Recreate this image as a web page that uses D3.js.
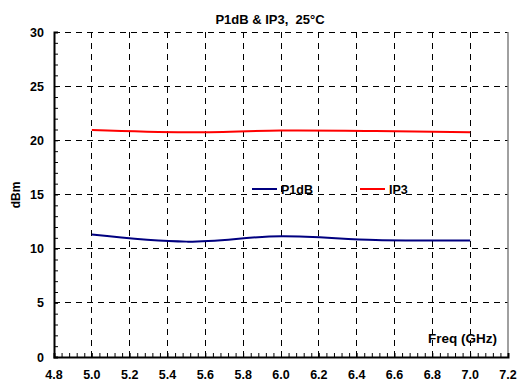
<!DOCTYPE html>
<html><head><meta charset="utf-8">
<script src="https://cdn.jsdelivr.net/npm/d3@7"></script>
<style>body{margin:0;background:#fff}svg{display:block}text{font-family:Arial,"Liberation Sans",sans-serif;font-weight:bold;white-space:pre}</style>
</head><body>
<script>
const freq = [5.0, 5.5, 6.0, 6.5, 7.0];
const p1db = [11.3, 10.65, 11.15, 10.8, 10.75];
const ip3 = [20.95, 20.74, 20.9, 20.86, 20.74];
const xTicks = [4.8, 5.0, 5.2, 5.4, 5.6, 5.8, 6.0, 6.2, 6.4, 6.6, 6.8, 7.0, 7.2];
const yTicks = [0, 5, 10, 15, 20, 25, 30];
const seriesNames = ["P1dB", "IP3"];
const title = "P1dB & IP3,  25°C";

const W = 519, H = 382;
const svg = d3.select("body").append("svg").attr("width", W).attr("height", H);
const x = d3.scaleLinear().domain([4.8, 7.2]).range([54, 508]);
const y = d3.scaleLinear().domain([0, 30]).range([357, 32]);

// gridlines
const g = svg.append("g");
g.selectAll("line.h").data(yTicks.filter(d => d > 0)).join("line")
  .attr("x1", x(4.8)).attr("x2", x(7.2)).attr("y1", d => y(d)).attr("y2", d => y(d))
  .attr("stroke", "#000").attr("stroke-width", 1).attr("stroke-dasharray", "6,5").attr("shape-rendering", "crispEdges");
g.selectAll("line.v").data(xTicks.filter(d => d > 4.85 && d < 7.1)).join("line")
  .attr("x1", d => x(d)).attr("x2", d => x(d)).attr("y1", y(30)).attr("y2", y(0))
  .attr("stroke", "#000").attr("stroke-width", 1).attr("stroke-dasharray", "6,5").attr("shape-rendering", "crispEdges");
// right border
svg.append("line").attr("x1", x(7.2)).attr("x2", x(7.2)).attr("y1", y(30)).attr("y2", y(0))
  .attr("stroke", "#808080").attr("stroke-width", 1.5);

// axes
const yAxis = d3.axisLeft(y).tickValues(d3.range(0, 31, 1)).tickSize(-4).tickFormat("");
svg.append("g").attr("transform", `translate(${x(4.8)},0)`).call(yAxis)
  .call(s => s.select(".domain").attr("stroke-width", 2))
  .call(s => s.selectAll(".tick line").attr("stroke-width", 1));
const xAxis = d3.axisBottom(x).tickValues(d3.range(0, 61).map(i => 4.8 + i * 0.04)).tickSize(-4).tickFormat("");
svg.append("g").attr("transform", `translate(0,${y(0)})`).call(xAxis)
  .call(s => s.select(".domain").attr("stroke-width", 2))
  .call(s => s.selectAll(".tick line").attr("stroke-width", 1));

// tick labels
svg.selectAll("text.yl").data(yTicks).join("text")
  .attr("x", 44).attr("y", d => y(d) + 4.5).attr("text-anchor", "end")
  .attr("font-size", 12.5).text(d => d);
svg.selectAll("text.xl").data(xTicks).join("text")
  .attr("x", d => x(d)).attr("y", 379).attr("text-anchor", "middle")
  .attr("font-size", 12.5).text(d => d.toFixed(1));

// titles
svg.append("text").attr("x", 270).attr("y", 24).attr("text-anchor", "middle").attr("font-size", 13).text(title);
svg.append("text").attr("transform", `translate(20,195) rotate(-90)`).attr("text-anchor", "middle").attr("font-size", 12).text("dBm");
svg.append("text").attr("x", 497).attr("y", 343).attr("text-anchor", "end").attr("font-size", 13.5).text("Freq (GHz)");

// lines
const line = d3.line().x(d => x(d[0])).y(d => y(d[1])).curve(d3.curveCatmullRom.alpha(0.5));
const series = [
  {name: seriesNames[0], vals: p1db, color: "#000080"},
  {name: seriesNames[1], vals: ip3, color: "#ff0000"}
];
series.forEach(s => {
  svg.append("path").datum(freq.map((f, i) => [f, s.vals[i]]))
    .attr("d", line).attr("fill", "none").attr("stroke", s.color).attr("stroke-width", 2);
});

// legend
const legX = [252, 360];
series.forEach((s, i) => {
  svg.append("line").attr("x1", legX[i]).attr("x2", legX[i] + 25).attr("y1", 189).attr("y2", 189)
    .attr("stroke", s.color).attr("stroke-width", 2);
  svg.append("text").attr("x", legX[i] + 29).attr("y", 193.5).attr("font-size", 12.5).text(s.name);
});
</script>
</body></html>
